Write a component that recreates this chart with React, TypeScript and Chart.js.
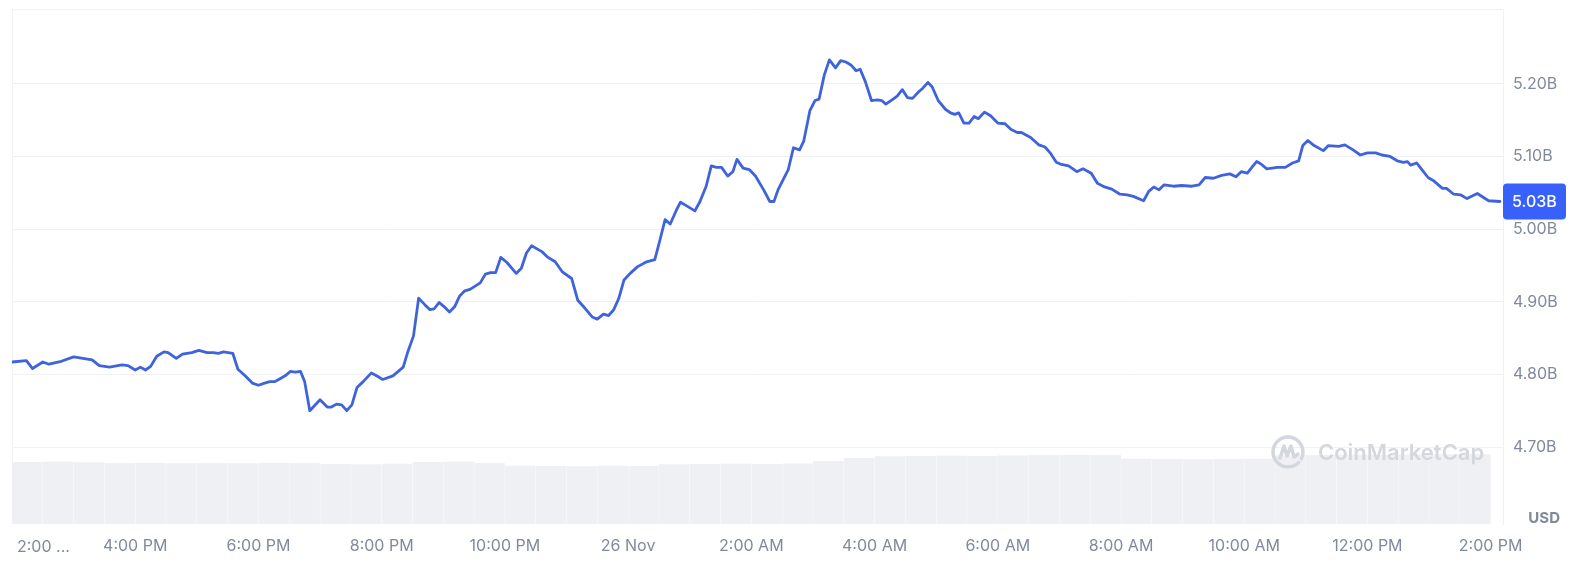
import React, { useEffect, useRef } from 'react';
import { Chart, registerables } from 'chart.js';

Chart.register(...registerables);

// minutes after 2:00 PM, 25 Nov
const priceMinutes = [
  0, 14, 20, 30, 36, 48, 60, 78, 85, 95, 107, 113, 120, 125, 130, 135, 141, 148, 152, 160,
  166, 175, 182, 190, 196, 201, 206, 215, 220, 227, 234, 240, 246, 251, 256, 261, 266, 271, 276, 281,
  285, 290, 300, 307, 311, 316, 321, 326, 331, 336, 342, 350, 355, 361, 371, 381, 385, 391, 396, 402,
  407, 411, 416, 421, 426, 431, 436, 441, 446, 456, 461, 466, 471, 476, 482, 491, 496, 501, 506, 516,
  522, 529, 536, 545, 551, 558, 565, 570, 576, 581, 586, 591, 596, 602, 609, 618, 626, 631, 636, 641,
  647, 651, 657, 665, 670, 676, 681, 686, 691, 697, 702, 706, 712, 718, 724, 732, 738, 742, 746, 751,
  756, 761, 767, 771, 777, 782, 786, 791, 796, 802, 807, 812, 817, 822, 826, 831, 837, 843, 847, 851,
  857, 862, 867, 872, 877, 883, 887, 892, 896, 902, 909, 914, 918, 922, 927, 932, 937, 941, 947, 953,
  960, 967, 973, 979, 983, 992, 1000, 1006, 1011, 1017, 1022, 1029, 1037, 1043, 1051, 1057, 1064, 1071, 1079, 1086,
  1092, 1102, 1107, 1112, 1117, 1122, 1131, 1139, 1149, 1156, 1162, 1170, 1178, 1186, 1192, 1197, 1203, 1208, 1212, 1216,
  1222, 1232, 1240, 1247, 1253, 1257, 1262, 1268, 1277, 1282, 1292, 1298, 1306, 1313, 1320, 1328, 1334, 1342, 1349, 1355,
  1359, 1362, 1368, 1373, 1379, 1384, 1393, 1397, 1404, 1411, 1417, 1427, 1438, 1449,
];

// market cap, billions USD
const priceValues = [
  4.817, 4.819, 4.808, 4.817, 4.814, 4.818, 4.824, 4.820, 4.812, 4.810, 4.813, 4.812, 4.806, 4.810, 4.806, 4.811, 4.825, 4.831, 4.830, 4.822,
  4.828, 4.830, 4.833, 4.830, 4.830, 4.829, 4.831, 4.829, 4.807, 4.798, 4.788, 4.785, 4.788, 4.790, 4.790, 4.794, 4.798, 4.804, 4.803, 4.804,
  4.790, 4.750, 4.765, 4.755, 4.755, 4.759, 4.758, 4.750, 4.758, 4.782, 4.790, 4.802, 4.798, 4.793, 4.798, 4.810, 4.829, 4.853, 4.905, 4.896,
  4.889, 4.890, 4.899, 4.893, 4.886, 4.893, 4.908, 4.915, 4.917, 4.926, 4.938, 4.940, 4.940, 4.961, 4.954, 4.939, 4.946, 4.967, 4.977, 4.969,
  4.961, 4.955, 4.941, 4.932, 4.902, 4.891, 4.879, 4.876, 4.883, 4.881, 4.889, 4.905, 4.930, 4.939, 4.948, 4.955, 4.958, 4.985, 5.013, 5.007,
  5.026, 5.037, 5.032, 5.025, 5.038, 5.059, 5.087, 5.085, 5.085, 5.073, 5.079, 5.096, 5.084, 5.082, 5.073, 5.054, 5.038, 5.038, 5.054, 5.068,
  5.082, 5.112, 5.109, 5.121, 5.163, 5.177, 5.179, 5.212, 5.233, 5.222, 5.232, 5.230, 5.226, 5.218, 5.220, 5.203, 5.177, 5.178, 5.177, 5.172,
  5.178, 5.183, 5.192, 5.181, 5.180, 5.189, 5.194, 5.202, 5.196, 5.177, 5.165, 5.160, 5.158, 5.160, 5.146, 5.146, 5.155, 5.152, 5.161, 5.156,
  5.146, 5.145, 5.137, 5.133, 5.133, 5.126, 5.116, 5.113, 5.105, 5.092, 5.089, 5.087, 5.079, 5.083, 5.077, 5.063, 5.058, 5.055, 5.048, 5.047,
  5.045, 5.039, 5.052, 5.058, 5.054, 5.061, 5.059, 5.060, 5.059, 5.061, 5.071, 5.070, 5.074, 5.076, 5.072, 5.079, 5.077, 5.086, 5.093, 5.090,
  5.083, 5.085, 5.085, 5.091, 5.094, 5.115, 5.122, 5.115, 5.108, 5.115, 5.114, 5.116, 5.109, 5.102, 5.105, 5.105, 5.102, 5.100, 5.094, 5.092,
  5.093, 5.088, 5.091, 5.082, 5.071, 5.067, 5.056, 5.056, 5.048, 5.047, 5.042, 5.049, 5.039, 5.038,
];

// 24h volume per half-hour bucket (millions USD, relative)
const volumeValues = [
  241, 242, 240, 237, 238, 236, 237, 236, 238, 237, 233, 232, 234, 241, 242, 237, 226, 225, 224, 226,
  225, 232, 233, 234, 233, 235, 245, 256, 263, 264, 265, 264, 266, 268, 269, 268, 253, 252, 251, 252,
  253, 267, 268, 269, 268, 270, 271, 272,
];
const volumeBucketMinutes = 30;

const xTickMinutes = [0, 120, 240, 360, 480, 600, 720, 840, 960, 1080, 1200, 1320, 1440];
const xTickLabels = [
  '2:00 ...', '4:00 PM', '6:00 PM', '8:00 PM', '10:00 PM', '26 Nov', '2:00 AM',
  '4:00 AM', '6:00 AM', '8:00 AM', '10:00 AM', '12:00 PM', '2:00 PM',
];
const yTickValues = [4.7, 4.8, 4.9, 5.0, 5.1, 5.2];
const currencyLabel = 'USD';
const watermarkText = 'CoinMarketCap';

const FONT = 'Inter, "Noto Sans", sans-serif';
const LABEL_COLOR = '#808a9d';
const GRID_COLOR = '#eff1f4';

const decorPlugin = {
  id: 'decor',
  beforeDraw(chart: any) {
    const { ctx, chartArea: a } = chart;
    ctx.save();
    ctx.strokeStyle = GRID_COLOR;
    ctx.lineWidth = 1;
    ctx.beginPath();
    ctx.moveTo(a.left + 0.5, a.bottom);
    ctx.lineTo(a.left + 0.5, a.top + 0.5);
    ctx.lineTo(a.right - 0.5, a.top + 0.5);
    ctx.stroke();
    ctx.restore();
  },
  afterDatasetsDraw(chart: any) {
    const { ctx, chartArea: a } = chart;
    ctx.save();
    const cx = a.right - 215;
    const cy = a.bottom - 72;
    ctx.strokeStyle = '#d3d7de';
    ctx.lineWidth = 3.5;
    ctx.lineCap = 'round';
    ctx.lineJoin = 'round';
    ctx.beginPath();
    ctx.arc(cx, cy, 15, Math.PI * 0.25, Math.PI * 2.15);
    ctx.stroke();
    ctx.beginPath();
    ctx.moveTo(cx - 8, cy + 6);
    ctx.lineTo(cx - 4, cy - 6);
    ctx.lineTo(cx - 1, cy + 4);
    ctx.lineTo(cx + 3, cy - 6);
    ctx.lineTo(cx + 6, cy + 5);
    ctx.lineTo(cx + 10, cy + 2);
    ctx.stroke();
    ctx.fillStyle = '#d3d7de';
    ctx.font = `600 22px ${FONT}`;
    ctx.textAlign = 'left';
    ctx.textBaseline = 'middle';
    ctx.fillText(watermarkText, cx + 30, cy + 1);
    ctx.restore();
  },
  afterDraw(chart: any) {
    const { ctx, chartArea: a } = chart;
    const ys = chart.scales.y;
    const xs = chart.scales.x;
    ctx.save();
    // current value badge
    const last = priceValues[priceValues.length - 1];
    const py = ys.getPixelForValue(last);
    ctx.fillStyle = '#3861fb';
    ctx.beginPath();
    if ((ctx as any).roundRect) (ctx as any).roundRect(a.right, py - 18, 63, 36, 4);
    else ctx.rect(a.right, py - 18, 63, 36);
    ctx.fill();
    ctx.fillStyle = '#ffffff';
    ctx.font = `500 16px ${FONT}`;
    ctx.textAlign = 'left';
    ctx.textBaseline = 'middle';
    ctx.fillText((Math.floor(last * 100) / 100).toFixed(2) + 'B', a.right + 9, py + 1);
    // currency label
    ctx.fillStyle = LABEL_COLOR;
    ctx.font = `700 15px ${FONT}`;
    ctx.textAlign = 'right';
    ctx.fillText(currencyLabel, a.right + 57, a.bottom - 6);
    // first x label, left aligned
    ctx.font = `16px ${FONT}`;
    ctx.textAlign = 'left';
    ctx.fillText(xTickLabels[0], a.left + 5, xs.top + 23);
    ctx.restore();
  },
};

export default function App() {
  const ref = useRef<HTMLCanvasElement | null>(null);

  useEffect(() => {
    if (!ref.current) return;
    const lineData = priceMinutes.map((m, i) => ({ x: m, y: priceValues[i] }));
    const volData = volumeValues.map((v, i) => ({ x: volumeBucketMinutes * i + volumeBucketMinutes / 2, y: v }));
    const chart = new Chart(ref.current, {
      type: 'bar',
      data: {
        datasets: [
          {
            type: 'line',
            data: lineData,
            xAxisID: 'x',
            yAxisID: 'y',
            borderColor: '#3e63dd',
            borderWidth: 2.8,
            pointRadius: 0,
            tension: 0,
            borderJoinStyle: 'round',
            borderCapStyle: 'round',
            order: 0,
          } as any,
          {
            type: 'bar',
            data: volData,
            xAxisID: 'x',
            yAxisID: 'yv',
            backgroundColor: '#eef0f4',
            borderWidth: 0,
            barPercentage: 1,
            categoryPercentage: 0.99,
            order: 1,
          } as any,
        ],
      },
      options: {
        animation: false,
        responsive: true,
        maintainAspectRatio: false,
        layout: { padding: { left: 12, top: 9, right: 0, bottom: 0 } },
        plugins: { legend: { display: false }, tooltip: { enabled: false } },
        scales: {
          x: {
            type: 'linear',
            offset: false,
            min: 0,
            max: 1452,
            afterBuildTicks: (s: any) => {
              s.ticks = xTickMinutes.map((v) => ({ value: v }));
            },
            afterFit: (s: any) => {
              s.height = 58;
              s.paddingLeft = 0;
              s.paddingRight = 0;
            },
            grid: { display: false, drawTicks: false, offset: false },
            border: { display: false },
            ticks: {
              autoSkip: false,
              maxRotation: 0,
              padding: 13,
              color: LABEL_COLOR,
              font: { family: FONT, size: 16 },
              callback: (_v: any, i: number) => (i === 0 ? '' : xTickLabels[i]),
            },
          },
          y: {
            type: 'linear',
            position: 'right',
            min: 4.594,
            max: 5.303,
            afterBuildTicks: (s: any) => {
              s.ticks = yTickValues.map((v) => ({ value: v }));
            },
            afterFit: (s: any) => {
              s.width = 89;
              s.paddingTop = 0;
              s.paddingBottom = 0;
            },
            grid: { color: GRID_COLOR, drawTicks: false, lineWidth: 1 },
            border: { display: true, color: GRID_COLOR },
            ticks: {
              padding: 10,
              color: LABEL_COLOR,
              font: { family: FONT, size: 16 },
              callback: (v: any) => Number(v).toFixed(2) + 'B',
            },
          },
          yv: {
            type: 'linear',
            display: false,
            min: 0,
            max: 2000,
          },
        },
      } as any,
      plugins: [decorPlugin],
    });
    return () => chart.destroy();
  }, []);

  return (
    <div style={{ position: 'absolute', left: 0, top: 0, width: 1592, height: 582, background: '#fff' }}>
      <canvas ref={ref} />
    </div>
  );
}
